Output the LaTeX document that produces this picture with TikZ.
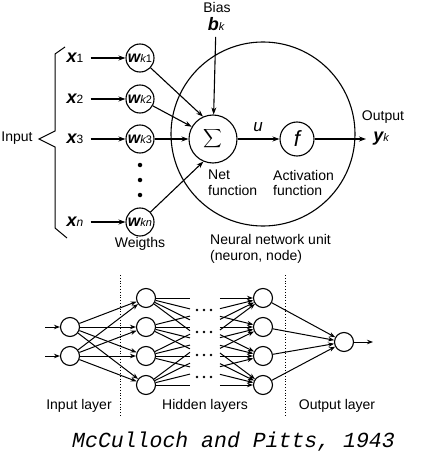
\documentclass[tikz,border=0pt]{standalone}
\usepackage{fontspec}
\usepackage{graphicx}
\setmainfont{Liberation Sans}
\newfontfamily\capfont{Liberation Mono}
\usetikzlibrary{arrows.meta,calc}
\newcommand{\bigvar}[2]{{\fontsize{18}{18}\selectfont\bfseries\itshape #1}{\fontsize{12}{12}\selectfont #2}}
\newcommand{\wvar}[1]{{\fontsize{16}{16}\selectfont\bfseries\itshape w}{\fontsize{11}{11}\selectfont\itshape k}{\fontsize{11}{11}\selectfont #1}}
\begin{document}
\begin{tikzpicture}[x=1pt,y=-1pt,
  arr/.style={-{Stealth[length=7pt,width=5pt]},line width=1.1pt},
  sarr/.style={-{Stealth[length=6pt,width=4.5pt]},line width=1pt},
  lbl/.style={font=\fontsize{14}{15.5}\selectfont,inner sep=0pt,align=left},
  var/.style={inner sep=0pt},
  wnode/.style={circle,draw,line width=1.1pt,minimum size=28pt,inner sep=0pt},
  neuron/.style={circle,draw,line width=1.1pt,minimum size=19pt,inner sep=0pt},
  dotm/.style={circle,fill,inner sep=0pt,minimum size=4.5pt},
  sdot/.style={circle,fill,inner sep=0pt,minimum size=2.6pt},
  sep/.style={dotted,line width=0.8pt}
]
\useasboundingbox (0,0) rectangle (421,457);

% ---------- top: single neuron ----------
\node[lbl] (input) at (17,138) {Input};
\draw[line width=1pt] (65,47) -- (55,54) -- (55,131) -- (39,139) -- (55,147) -- (55,228) -- (67,238);

\node[var] (x1) at (75,58) {\bigvar{x}{1}};
\node[var] (x2) at (75,99) {\bigvar{x}{2}};
\node[var] (x3) at (75,139) {\bigvar{x}{3}};
\node[var] (xn) at (75,222) {\bigvar{x}{\itshape n}};

\node[wnode] (w1) at (140,58) {\wvar{1}};
\node[wnode] (w2) at (140,99) {\wvar{2}};
\node[wnode] (w3) at (140,139) {\wvar{3}};
\node[wnode] (wn) at (140,222) {\wvar{\itshape n}};

\node[dotm] (vd1) at (140,165) {};
\node[dotm] (vd2) at (140,180) {};
\node[dotm] (vd3) at (140,195) {};

\node[lbl] (weights) at (140,244) {Weigths};

\foreach \k in {1,2,3,n}{
  \draw[arr,shorten <=7pt] (x\k) -- (w\k);
}

\node[circle,draw,line width=1.1pt,minimum size=184pt,inner sep=0pt] (unit) at (263,134) {};
\node[circle,draw,line width=1.1pt,minimum size=48pt,inner sep=0pt] (sig) at (213,139) {\scalebox{1.3}{$\displaystyle\sum$}};
\node[circle,draw,line width=1.1pt,minimum size=34pt,inner sep=0pt] (f) at (297,139) {\fontsize{22}{22}\selectfont\itshape f};

\draw[arr] (w1) -- (sig.114);
\draw[arr] (w2) -- (sig.150);
\draw[arr] (w3) -- (sig.west);
\draw[arr] (wn) -- (sig.247);

\node[lbl] (bias) at (217,7) {Bias};
\node[var] (bk) at (216,24) {{\fontsize{18}{18}\selectfont\bfseries\itshape b}{\fontsize{11}{11}\selectfont\itshape k}};
\draw[arr,shorten <=6pt] (bk) -- (sig);

\node[var] (u) at (258,127) {\fontsize{17}{17}\selectfont\itshape u};
\draw[arr] (sig) -- (f);

\coordinate (yout) at (366,139);
\draw[arr] (f) -- (yout);
\node[lbl] (output) at (383,117) {Output};
\node[var] (yk) at (381,139) {{\fontsize{18}{18}\selectfont\bfseries\itshape y}{\fontsize{11}{11}\selectfont\itshape k}};

\node[lbl,anchor=west] (netf) at (208,183) {Net\\function};
\node[lbl,anchor=west] (actf) at (273,183) {Activation\\function};
\node[lbl,anchor=west] (nnu) at (210,249) {Neural network unit\\(neuron, node)};

% ---------- bottom: network ----------
\draw[sep] (120,275) -- (120,416);
\draw[sep] (285,275) -- (285,416);

\node[neuron] (I1) at (70,327) {};
\node[neuron] (I2) at (70,356) {};
\foreach \n/\y in {1/298,2/327,3/356,4/385}{
  \node[neuron] (L\n) at (146,\y) {};
  \node[neuron] (R\n) at (263,\y) {};
}
\node[neuron] (O) at (344,342) {};

\coordinate (in1) at (45,327);
\coordinate (in2) at (45,356);
\coordinate (out) at (373,342);
\draw[sarr] (in1) -- (I1);
\draw[sarr] (in2) -- (I2);
\draw[sarr] (O) -- (out);

\foreach \a in {1,2}{
  \foreach \b in {1,...,4}{
    \draw[sarr] (I\a) -- (L\b);
  }
}
\foreach \i in {1,...,4}{
  \foreach \j in {1,...,4}{
    \draw[line width=1pt] (L\i) -- ($(L\i.center)!0.376!(R\j.center)$);
    \draw[sarr] ($(L\i.center)!0.632!(R\j.center)$) -- (R\j);
  }
  \draw[sarr] (R\i) -- (O);
}
\foreach \n/\y in {1/310,2/332,3/355,4/377}{
  \node[sdot] (hd\n a) at (197,\y) {};
  \node[sdot] (hd\n b) at (204,\y) {};
  \node[sdot] (hd\n c) at (211,\y) {};
}

\node[lbl] (inl) at (79,406) {Input layer};
\node[lbl] (hidl) at (205,406) {Hidden layers};
\node[lbl] (outl) at (337,406) {Output layer};

\node[inner sep=0pt,font=\fontsize{21.5}{22}\selectfont\capfont\itshape] (cap) at (233.5,442) {McCulloch and Pitts, 1943};
\end{tikzpicture}
\end{document}
